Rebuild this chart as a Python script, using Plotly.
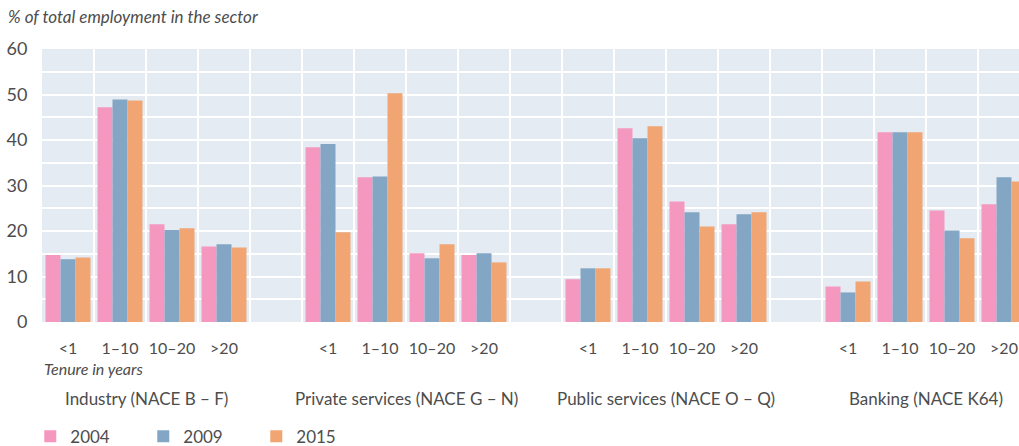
import plotly.graph_objects as go

# ---- data ----
tenure = ["<1", "1–10", "10–20", ">20"]
sectors = ["Industry (NACE B – F)", "Private services (NACE G – N)",
           "Public services (NACE O – Q)", "Banking (NACE K64)"]
years = ["2004", "2009", "2015"]

v2004 = [14.7, 47.2, 21.5, 16.6,   38.4, 31.8, 15.1, 14.7,   9.4, 42.6, 26.5, 21.5,   7.8, 41.7, 24.5, 25.9]
v2009 = [13.8, 48.9, 20.2, 17.1,   39.1, 32.0, 14.0, 15.1,   11.8, 40.4, 24.1, 23.7,  6.5, 41.7, 20.1, 31.8]
v2015 = [14.2, 48.7, 20.6, 16.4,   19.7, 50.3, 17.1, 13.1,   11.8, 43.0, 21.0, 24.1,  8.9, 41.7, 18.4, 30.9]

colors = ["#F598C0", "#82A6C4", "#F0A572"]

# slot positions: 4 tenure slots per sector, one empty slot between sectors
xpos = []
for s in range(len(sectors)):
    for t in range(len(tenure)):
        xpos.append(s * 5 + t)

FONT = "Lato"
TXT = "#4d4d4d"

fig = go.Figure()
for name, vals, c in zip(years, [v2004, v2009, v2015], colors):
    fig.add_trace(go.Bar(x=xpos, y=vals, name=name, marker=dict(color=c, line=dict(width=0))))

fig.update_layout(
    width=1019, height=446,
    margin=dict(l=42, r=0, t=49, b=124, autoexpand=False),
    paper_bgcolor="white", plot_bgcolor="#E4EBF3",
    barmode="group", bargap=0.135, bargroupgap=0,
    font=dict(family=FONT, color=TXT, size=15),
    showlegend=True,
    legend=dict(orientation="h", x=-0.012, xanchor="left", y=-0.42, yanchor="middle",
                entrywidth=68, entrywidthmode="pixels",
                font=dict(size=17, color=TXT), itemsizing="constant"),
    title=dict(text="<i>% of total employment in the sector</i>", xref="container", yref="container",
               x=8/1019, xanchor="left", y=1-17/446, yanchor="middle",
               font=dict(size=17, color=TXT, family=FONT)),
)

fig.update_xaxes(
    automargin=False,
    range=[-0.5, (1019 - 42) / 52 - 0.5],
    tickmode="array", tickvals=xpos, ticktext=tenure * len(sectors),
    showgrid=False, zeroline=False, showline=False,
    ticks="outside", ticklen=12, tickcolor="rgba(0,0,0,0)",
    tickfont=dict(size=16, color=TXT),
    minor=dict(tickmode="array", tickvals=[k + 0.5 for k in range(18)],
               showgrid=True, gridcolor="white", gridwidth=2, ticks=""),
)
fig.update_yaxes(
    automargin=False,
    range=[0, 60], dtick=10, showgrid=True, gridcolor="white", gridwidth=2,
    zeroline=False, showline=False,
    ticks="outside", ticklen=10, tickcolor="rgba(0,0,0,0)",
    tickfont=dict(size=18, color=TXT),
    minor=dict(dtick=5, showgrid=True, gridcolor="white", gridwidth=2),
)

# sector labels
for s, name in enumerate(sectors):
    fig.add_annotation(x=s * 5 + 1.5, xref="x", y=-(398 - 322) / 273, yref="paper",
                       text=name, showarrow=False, yanchor="middle",
                       font=dict(size=17, color=TXT))

fig.add_annotation(x=0, xref="paper", xanchor="left", y=-(368 - 322) / 273, yref="paper",
                   yanchor="middle", text="<i>Tenure in years</i>", showarrow=False,
                   font=dict(size=16, color=TXT))

fig.write_html("out.html", config={"displayModeBar": False},
               post_script="document.body.style.margin='0';")
